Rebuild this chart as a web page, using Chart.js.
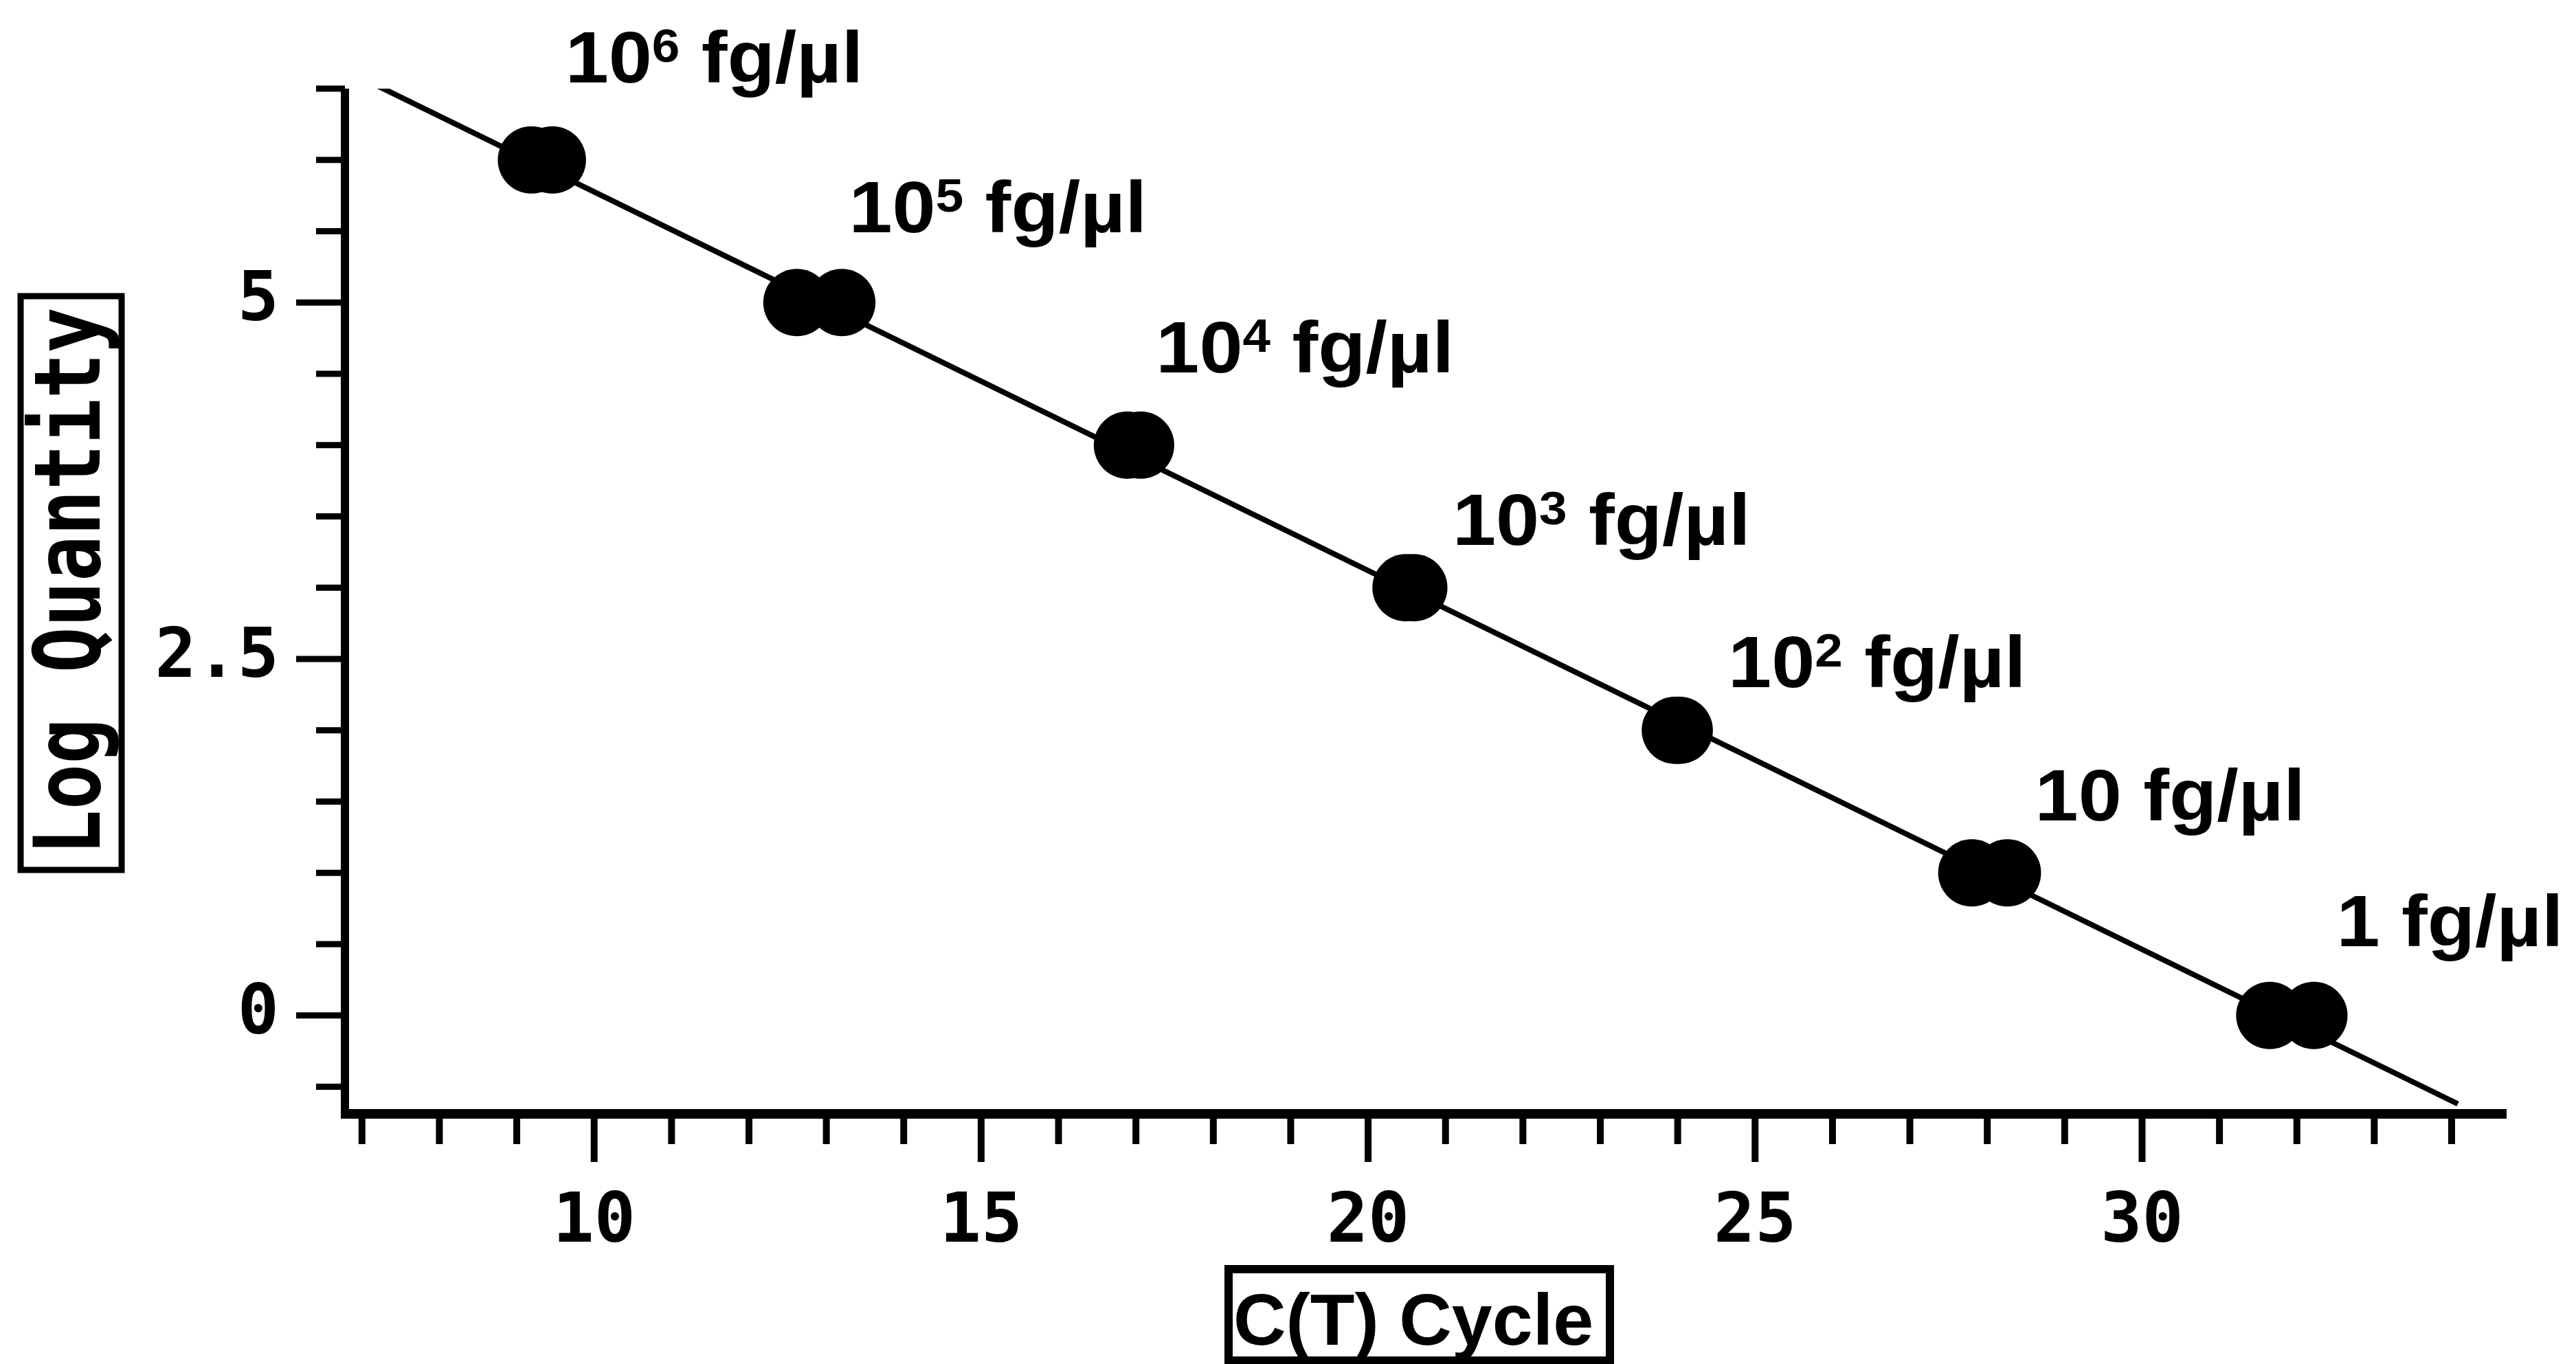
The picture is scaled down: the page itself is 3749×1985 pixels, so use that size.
<!DOCTYPE html>
<html lang="en">
<head>
<meta charset="UTF-8" />
<title>Standard curve</title>
<script src="https://cdn.jsdelivr.net/npm/chart.js"></script>
<style>
  html, body { margin: 0; padding: 0; background: #fff; }
  canvas { display: block; background: #fff; }
</style>
</head>
<body>
<canvas id="curveChart" width="3749" height="1985"></canvas>
<script>
// dilution standards, two replicates each
const ctCycle = [9.19, 9.46, 12.62, 13.2, 16.89, 17.06, 20.49, 20.59, 23.97, 24.02, 27.8, 28.26, 31.65, 32.22];
const logQuantity = [6, 6, 5, 5, 4, 4, 3, 3, 2, 2, 1, 1, 0, 0];

// regression line end points
const fitCycle = [7.2, 34.08];
const fitLog = [6.52, -0.62];

// one label per standard (base + exponent)
const labelBase = ["10", "10", "10", "10", "10", "10", "1"];
const labelExp = ["6", "5", "4", "3", "2", "", ""];
const labelUnit = " fg/\u00b5l";

const xTickLabels = [10, 15, 20, 25, 30];
const yTickLabels = [0, 2.5, 5];

// label offset from the replicate pair, in px
const labelShift = [[34, -113], [43, -102], [32, -106], [62, -62], [74, -63], [66, -76], [65, -101]];

const LABEL_FONT = 'bold 106px "Liberation Sans", Arial, sans-serif';
const SUP_FONT = 'bold 68px "Liberation Sans", Arial, sans-serif';

const axesPlugin = {
  id: "axesAndLabels",
  afterDraw(chart) {
    const { ctx, chartArea: a, scales: { x, y } } = chart;
    ctx.save();
    ctx.strokeStyle = "#000";
    ctx.fillStyle = "#000";
    ctx.lineCap = "butt";

    // axis lines
    ctx.lineWidth = 12;
    ctx.beginPath();
    ctx.moveTo(a.left, a.top);
    ctx.lineTo(a.left, a.bottom);
    ctx.stroke();
    ctx.lineWidth = 14;
    ctx.beginPath();
    ctx.moveTo(a.left - 6, a.bottom);
    ctx.lineTo(a.right, a.bottom);
    ctx.stroke();

    // y ticks every 0.5, longer at labelled values
    ctx.lineWidth = 9;
    for (let v = -0.5; v <= 6.5; v += 0.5) {
      const py = y.getPixelForValue(v);
      const len = yTickLabels.includes(v) ? 71 : 42;
      ctx.beginPath();
      ctx.moveTo(a.left - len, py);
      ctx.lineTo(a.left, py);
      ctx.stroke();
    }

    // x ticks every cycle
    ctx.lineWidth = 10;
    for (let v = 7; v <= 34; v++) {
      const px = x.getPixelForValue(v);
      const len = xTickLabels.includes(v) ? 70 : 44;
      ctx.beginPath();
      ctx.moveTo(px, a.bottom);
      ctx.lineTo(px, a.bottom + len);
      ctx.stroke();
    }

    // concentration labels next to each pair
    ctx.textAlign = "left";
    ctx.textBaseline = "alphabetic";
    labelBase.forEach((base, i) => {
      const cx = (x.getPixelForValue(ctCycle[2 * i]) + x.getPixelForValue(ctCycle[2 * i + 1])) / 2;
      const cy = y.getPixelForValue(logQuantity[2 * i]);
      ctx.save();
      ctx.translate(cx + labelShift[i][0], cy + labelShift[i][1]);
      ctx.scale(1.07, 1);
      let tx = 0;
      ctx.font = LABEL_FONT;
      ctx.fillText(base, tx, 0);
      tx += ctx.measureText(base).width;
      if (labelExp[i]) {
        ctx.font = SUP_FONT;
        ctx.fillText(labelExp[i], tx, -30);
        tx += ctx.measureText(labelExp[i]).width;
        ctx.font = LABEL_FONT;
      }
      ctx.fillText(labelUnit, tx, 0);
      ctx.restore();
    });

    // boxed y title
    ctx.lineWidth = 9;
    ctx.strokeRect(30, 431, 147, 835);
    ctx.save();
    ctx.translate(145, 846);
    ctx.rotate(-Math.PI / 2);
    ctx.scale(0.83, 1);
    ctx.font = 'bold 133px "DejaVu Sans Mono", monospace';
    ctx.textAlign = "center";
    ctx.fillText("Log Quantity", 0, 0);
    ctx.restore();

    // boxed x title
    ctx.lineWidth = 12;
    ctx.strokeRect(1788, 1847, 555, 133);
    ctx.font = 'bold 106px "Liberation Sans", Arial, sans-serif';
    ctx.textAlign = "center";
    ctx.fillText("C(T) Cycle", 2057, 1957);

    ctx.restore();
  }
};

const tickFont = { family: "DejaVu Sans Mono", size: 100, weight: "bold" };

new Chart(document.getElementById("curveChart"), {
  type: "scatter",
  data: {
    datasets: [
      {
        type: "line",
        data: fitCycle.map((c, i) => ({ x: c, y: fitLog[i] })),
        borderColor: "#000",
        borderWidth: 8,
        pointRadius: 0,
        fill: false,
        tension: 0
      },
      {
        data: ctCycle.map((c, i) => ({ x: c, y: logQuantity[i] })),
        backgroundColor: "#000",
        borderWidth: 0,
        pointRadius: 49,
        pointHoverRadius: 49
      }
    ]
  },
  options: {
    responsive: false,
    devicePixelRatio: 1,
    animation: false,
    layout: { padding: { top: 129, right: 101, left: 0, bottom: 0 } },
    plugins: { legend: { display: false }, tooltip: { enabled: false } },
    scales: {
      x: {
        type: "linear",
        min: 6.78,
        max: 34.71,
        grid: { display: false, drawTicks: false },
        border: { display: false },
        afterBuildTicks: (s) => { s.ticks = xTickLabels.map((v) => ({ value: v })); },
        afterFit: (s) => { s.height = 364; },
        ticks: {
          font: tickFont,
          color: "#000",
          padding: 100,
          maxRotation: 0,
          autoSkip: false,
          callback: (v) => String(v)
        }
      },
      y: {
        type: "linear",
        min: -0.69,
        max: 6.5,
        // invisible tick marks keep the labels clear of the drawn ticks
        grid: { display: true, drawOnChartArea: false, drawTicks: true, tickLength: 96, tickColor: "rgba(0,0,0,0)" },
        border: { display: false },
        afterBuildTicks: (s) => { s.ticks = yTickLabels.map((v) => ({ value: v })); },
        afterFit: (s) => { s.width = 502; },
        ticks: {
          font: tickFont,
          color: "#000",
          padding: 0,
          autoSkip: false,
          callback: (v) => String(v)
        }
      }
    }
  },
  plugins: [axesPlugin]
});
</script>
</body>
</html>
